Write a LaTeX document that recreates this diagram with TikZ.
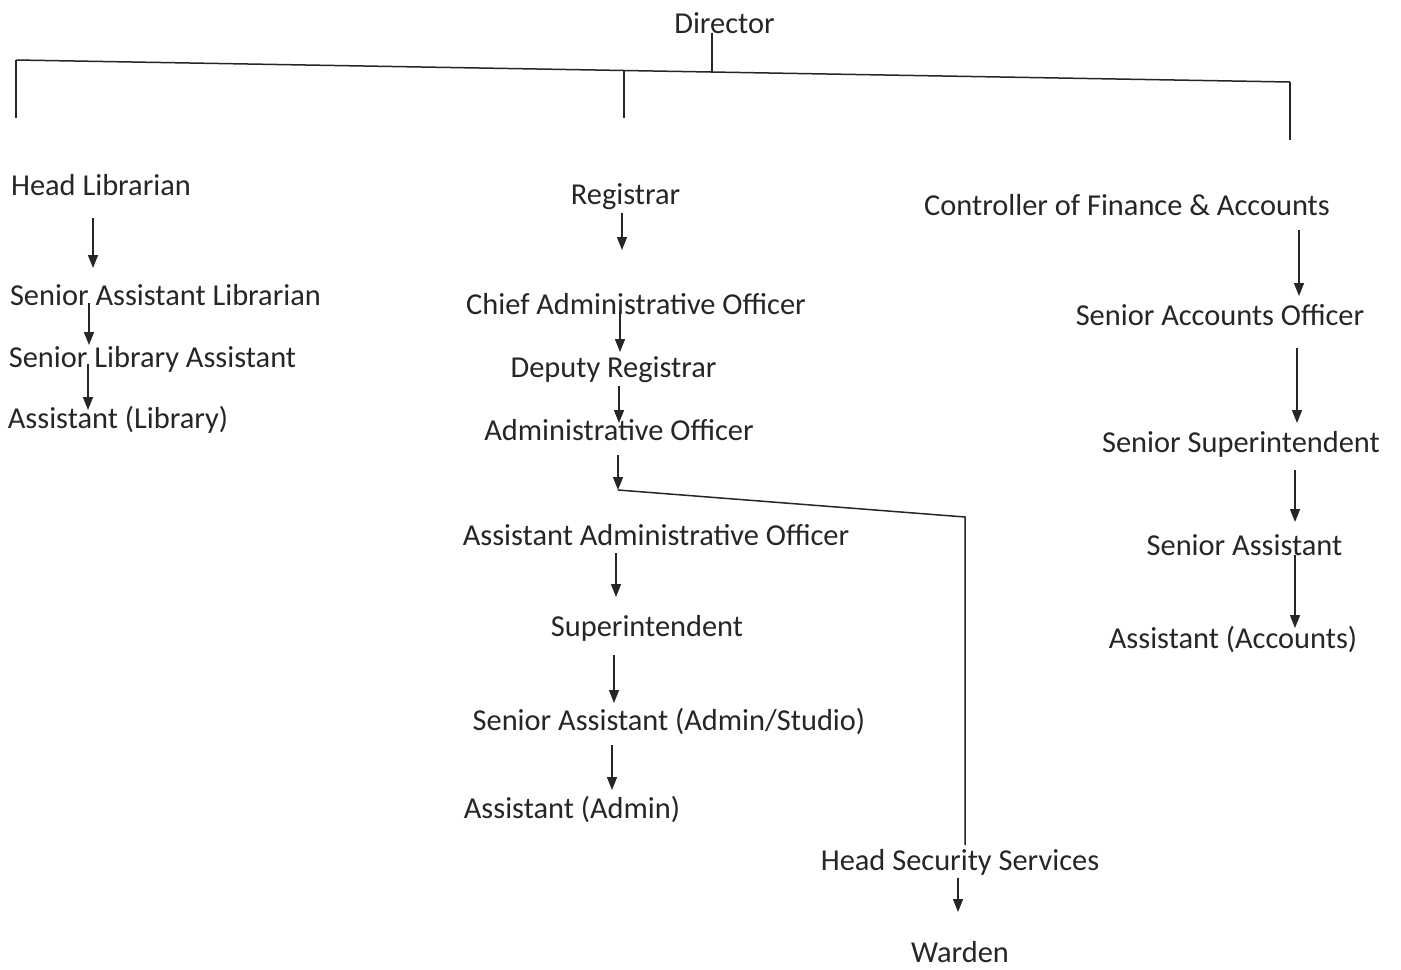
\documentclass[tikz,border=0pt]{standalone}
\usepackage{fontspec}
\setmainfont{Carlito}
\usetikzlibrary{arrows.meta,calc}

\begin{document}
\begin{tikzpicture}[x=0.5pt,y=-0.5pt,>={Triangle[length=6.5pt,width=5pt]},
                    line width=0.75pt,draw=black!85]
  \tikzset{post/.style={inner sep=0pt,anchor=base,text=black!85,
                        font=\fontsize{15.2}{18}\selectfont}}
  \tikzset{arr/.style={->}}
  \useasboundingbox[fill=white] (0,0) rectangle (1401,969);

  % top
  \node[post]	(dir)	at (724.5,33)	{Director};
  % library
  \node[post]	(hl)	at (101,195)	{Head Librarian};
  \node[post]	(sal)	at (165.5,305)	{Senior Assistant Librarian};
  \node[post]	(sla)	at (152.5,367)	{Senior Library Assistant};
  \node[post]	(al)	at (118,428)	{Assistant (Library)};
  % administration
  \node[post]	(reg)	at (625.5,204)	{Registrar};
  \node[post]	(cao)	at (636,314)	{Chief Administrative Officer};
  \node[post]	(dr)	at (613.5,377)	{Deputy Registrar};
  \node[post]	(ao)	at (619,440)	{Administrative Officer};
  \node[post]	(aao)	at (656,545)	{Assistant Administrative Officer};
  \node[post]	(sup)	at (647,636)	{Superintendent};
  \node[post]	(saas)	at (669,730)	{Senior Assistant (Admin/Studio)};
  \node[post]	(aad)	at (572,818)	{Assistant (Admin)};
  \node[post]	(hss)	at (960,870)	{Head Security Services};
  \node[post]	(war)	at (960,962)	{Warden};
  % finance
  \node[post]	(cfa)	at (1127,215)	{Controller of Finance \& Accounts};
  \node[post]	(sao)	at (1220,325)	{Senior Accounts Officer};
  \node[post]	(ss)	at (1241,452)	{Senior Superintendent};
  \node[post]	(sas)	at (1244.5,555)	{Senior Assistant};
  \node[post]	(aac)	at (1233,648)	{Assistant (Accounts)};

  % tree under the director
  \coordinate (barL) at (16,60);
  \coordinate (barR) at (1290,82);
  \coordinate (dirjoin) at (712,72);
  \coordinate (regjoin) at (624,70.5);
  \draw (dir.base -| dirjoin) -- (dirjoin);
  \draw (barL) -- (barR);
  \draw (barL) -- ++(0,58);
  \draw (regjoin) -- ++(0,47.5);
  \draw (barR) -- ++(0,58);

  % library chain
  \draw[arr] ($(hl.base -| 93,0)+(0,23)$) -- ($(sal.base -| 93,0)+(0,-37)$);
  \draw[arr] ($(sal.base -| 89,0)+(0,-2)$) -- ($(sla.base -| 89,0)+(0,-22)$);
  \draw[arr] ($(sla.base -| 88,0)+(0,-3)$) -- ($(al.base -| 88,0)+(0,-18)$);

  % administration chain
  \draw[arr] ($(reg.base -| 622,0)+(0,9)$) -- ($(cao.base -| 622,0)+(0,-64)$);
  \draw[arr] ($(cao.base -| 620,0)+(0,-3)$) -- ($(dr.base -| 620,0)+(0,-25)$);
  \draw[arr] ($(dr.base -| 619,0)+(0,9)$) -- ($(ao.base -| 619,0)+(0,-17)$);
  \coordinate (split) at ($(ao.base -| 618,0)+(0,50)$);
  \draw[arr] ($(ao.base -| 618,0)+(0,15)$) -- (split);
  \draw (split) -- ($(hss.base)+(5,-353)$) -- ($(hss.base)+(5,-25)$);
  \draw[arr] ($(aao.base -| 616,0)+(0,8)$) -- ($(sup.base -| 616,0)+(0,-39)$);
  \draw[arr] ($(sup.base -| 614,0)+(0,19)$) -- ($(saas.base -| 614,0)+(0,-27)$);
  \draw[arr] ($(saas.base -| 612,0)+(0,15)$) -- ($(aad.base -| 612,0)+(0,-28)$);
  \draw[arr] ($(hss.base -| 958,0)+(0,8)$) -- ($(war.base -| 958,0)+(0,-50)$);

  % finance chain
  \draw[arr] ($(cfa.base -| 1299,0)+(0,15)$) -- ($(sao.base -| 1299,0)+(0,-29)$);
  \draw[arr] ($(sao.base -| 1297,0)+(0,23)$) -- ($(ss.base -| 1297,0)+(0,-29)$);
  \draw[arr] ($(ss.base -| 1295,0)+(0,18)$) -- ($(sas.base -| 1295,0)+(0,-33)$);
  \draw[arr] ($(sas.base -| 1295,0)+(0,0)$) -- ($(aac.base -| 1295,0)+(0,-20)$);
\end{tikzpicture}
\end{document}
